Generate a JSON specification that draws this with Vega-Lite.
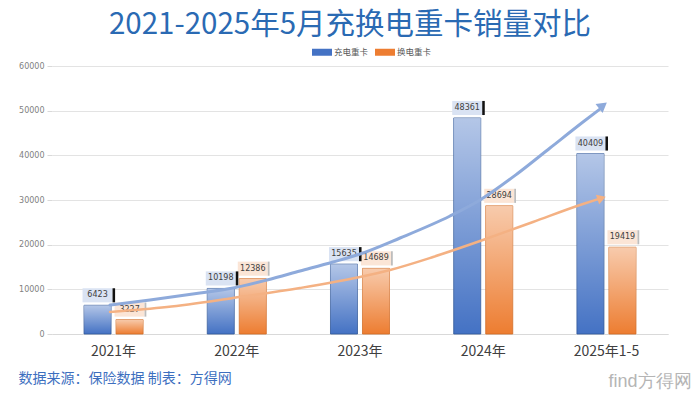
{
  "$schema": "https://vega.github.io/schema/vega-lite/v6.json",
  "width": 616,
  "height": 268,
  "autosize": {"type": "none"},
  "padding": {"left": 52, "top": 66, "right": 32, "bottom": 60},
  "background": "white",
  "config": {"view": {"stroke": null}},
  "title": {
    "text": "2021-2025年5月充换电重卡销量对比",
    "anchor": "middle",
    "dx": -10,
    "offset": 2,
    "fontSize": 29.5,
    "font": "Noto Sans CJK SC",
    "fontWeight": "normal",
    "color": "#2a6ab3"
  },
  "datasets": {
    "bars": [
      {"year": "2021年", "series": "充电重卡", "value": 6423},
      {"year": "2021年", "series": "换电重卡", "value": 3227},
      {"year": "2022年", "series": "充电重卡", "value": 10198},
      {"year": "2022年", "series": "换电重卡", "value": 12386},
      {"year": "2023年", "series": "充电重卡", "value": 15635},
      {"year": "2023年", "series": "换电重卡", "value": 14689},
      {"year": "2024年", "series": "充电重卡", "value": 48361},
      {"year": "2024年", "series": "换电重卡", "value": 28694},
      {"year": "2025年1-5", "series": "充电重卡", "value": 40409},
      {"year": "2025年1-5", "series": "换电重卡", "value": 19419}
    ],
    "arrows": [
      {"series": "blue", "t": -0.029, "v": 6493},
      {"series": "blue", "t": 0.295, "v": 7612},
      {"series": "blue", "t": 0.701, "v": 9179},
      {"series": "blue", "t": 0.969, "v": 10298},
      {"series": "blue", "t": 1.245, "v": 12090},
      {"series": "blue", "t": 1.513, "v": 14104},
      {"series": "blue", "t": 1.781, "v": 16119},
      {"series": "blue", "t": 2.0, "v": 17910},
      {"series": "blue", "t": 2.325, "v": 21492},
      {"series": "blue", "t": 2.731, "v": 26418},
      {"series": "blue", "t": 2.974, "v": 30000},
      {"series": "blue", "t": 3.274, "v": 35821},
      {"series": "blue", "t": 3.542, "v": 41642},
      {"series": "blue", "t": 3.81, "v": 47463},
      {"series": "blue", "t": 3.948, "v": 50373},
      {"series": "orange", "t": -0.029, "v": 4925},
      {"series": "orange", "t": 0.433, "v": 6045},
      {"series": "orange", "t": 0.969, "v": 8060},
      {"series": "orange", "t": 1.513, "v": 10298},
      {"series": "orange", "t": 2.0, "v": 12761},
      {"series": "orange", "t": 2.244, "v": 14328},
      {"series": "orange", "t": 2.593, "v": 17239},
      {"series": "orange", "t": 2.998, "v": 21045},
      {"series": "orange", "t": 3.404, "v": 25075},
      {"series": "orange", "t": 3.81, "v": 29104},
      {"series": "orange", "t": 3.924, "v": 30112}
    ],
    "tips": [
      {"series": "blue", "t": 3.972, "v": 51157},
      {"series": "orange", "t": 3.961, "v": 30425}
    ]
  },
  "resolve": {"scale": {"x": "independent"}, "axis": {"y": "independent"}},
  "layer": [
    {
      "data": {"name": "bars"},
      "encoding": {
        "x": {
          "field": "year",
          "type": "nominal",
          "sort": null,
          "scale": {"paddingInner": 0.521, "paddingOuter": 0.26},
          "axis": {
            "labelAngle": 0,
            "labelFontSize": 14,
            "labelFont": "Noto Sans CJK SC",
            "labelColor": "#404040",
            "ticks": false,
            "domainColor": "#d9d9d9",
            "labelPadding": 10,
            "title": "数据来源：保险数据 制表：方得网",
            "titleX": -34,
            "titleY": 44,
            "titleAlign": "left",
            "titleAnchor": "start",
            "titleBaseline": "middle",
            "titleFontSize": 14,
            "titleFont": "Noto Sans CJK SC",
            "titleFontWeight": "normal",
            "titleColor": "#3d6fbf"
          }
        },
        "xOffset": {
          "field": "series",
          "type": "nominal",
          "scale": {"domain": ["充电重卡", "换电重卡"], "paddingInner": 0.156, "paddingOuter": 0}
        },
        "y": {
          "field": "value",
          "type": "quantitative",
          "scale": {"domain": [0, 60000], "nice": false},
          "axis": {
            "values": [0, 10000, 20000, 30000, 40000, 50000, 60000],
            "format": "d",
            "labelFontSize": 8,
            "labelFont": "DejaVu Sans",
            "labelColor": "#7f7f7f",
            "domain": false,
            "tickColor": "#d9d9d9",
            "tickSize": 5,
            "labelPadding": 3,
            "grid": true,
            "gridColor": "#e3e3e3",
            "title": "find方得网",
            "titleAngle": 0,
            "titleX": 556,
            "titleY": 315,
            "titleAlign": "left",
            "titleBaseline": "middle",
            "titleAnchor": null,
            "titleFontSize": 18,
            "titleFont": "Liberation Sans",
            "titleFontWeight": "normal",
            "titleColor": "#b5b5b5"
          }
        }
      },
      "layer": [
        {
          "mark": {"type": "bar", "strokeWidth": 0.8},
          "encoding": {
            "color": {
              "field": "series",
              "type": "nominal",
              "scale": {"domain": ["充电重卡", "换电重卡"], "range": ["#4472c4", "#ed7d31"]},
              "legend": {
                "orient": "none",
                "legendX": 260,
                "legendY": -24,
                "direction": "horizontal",
                "title": null,
                "symbolType": "M-1,-0.35H1V0.35H-1Z",
                "symbolSize": 400,
                "symbolStrokeWidth": 0,
                "labelFontSize": 8.5,
                "labelFont": "Noto Sans CJK SC",
                "labelColor": "#595959",
                "columnPadding": 6,
                "labelOffset": 2
              }
            },
            "stroke": {
              "field": "series",
              "type": "nominal",
              "scale": {"domain": ["充电重卡", "换电重卡"], "range": ["#2f5597", "#d06a22"]},
              "legend": null
            }
          }
        },
        {
          "mark": {
            "type": "bar",
            "strokeWidth": 0,
            "fill": {
              "gradient": "linear",
              "x1": 0, "y1": 0, "x2": 0, "y2": 1,
              "stops": [
                {"offset": 0, "color": "rgba(255,255,255,0.6)"},
                {"offset": 1, "color": "rgba(255,255,255,0)"}
              ]
            }
          }
        },
        {
          "transform": [{"filter": "datum.series === '充电重卡'"}],
          "mark": {"type": "point", "shape": "M-1,-0.47H1V0.47H-1Z", "size": 900, "filled": true, "fill": "#dae3f3", "opacity": 1, "strokeWidth": 0, "yOffset": -10}
        },
        {
          "transform": [{"filter": "datum.series === '换电重卡'"}],
          "mark": {"type": "point", "shape": "M-1,-0.47H1V0.47H-1Z", "size": 900, "filled": true, "fill": "#fbe5d6", "opacity": 1, "strokeWidth": 0, "yOffset": -10}
        },
        {
          "transform": [{"filter": "datum.series === '充电重卡'"}],
          "mark": {"type": "point", "shape": "M1,-0.47H1.17V0.47H1Z", "size": 900, "filled": true, "fill": "#111111", "opacity": 1, "strokeWidth": 0, "yOffset": -10}
        },
        {
          "transform": [{"filter": "datum.series === '换电重卡'"}],
          "mark": {"type": "point", "shape": "M1,-0.47H1.12V0.47H1Z", "size": 900, "filled": true, "fill": "#bdbdbd", "opacity": 1, "strokeWidth": 0, "yOffset": -10}
        },
        {
          "mark": {"type": "text", "fontSize": 8, "font": "DejaVu Sans", "color": "#404040", "baseline": "middle", "yOffset": -10},
          "encoding": {"text": {"field": "value", "type": "quantitative", "format": "d"}}
        }
      ]
    },
    {
      "encoding": {
        "x": {"field": "t", "type": "quantitative", "scale": {"domain": [-0.5, 4.5], "nice": false, "zero": false}, "axis": null},
        "y": {"field": "v", "type": "quantitative", "axis": null}
      },
      "layer": [
        {
          "data": {"name": "arrows"},
          "transform": [{"filter": "datum.series === 'blue'"}],
          "mark": {"type": "line", "interpolate": "monotone", "color": "#8eaadb", "strokeWidth": 3, "strokeCap": "round"},
          "encoding": {}
        },
        {
          "data": {"name": "arrows"},
          "transform": [{"filter": "datum.series === 'orange'"}],
          "mark": {"type": "line", "interpolate": "monotone", "color": "#f4b183", "strokeWidth": 2.5, "strokeCap": "round"},
          "encoding": {}
        },
        {
          "data": {"name": "tips"},
          "transform": [{"filter": "datum.series === 'blue'"}],
          "mark": {"type": "point", "shape": "triangle-up", "size": 130, "filled": true, "color": "#8eaadb", "opacity": 1, "angle": 52}
        },
        {
          "data": {"name": "tips"},
          "transform": [{"filter": "datum.series === 'orange'"}],
          "mark": {"type": "point", "shape": "triangle-up", "size": 100, "filled": true, "color": "#f4b183", "opacity": 1, "angle": 71}
        }
      ]
    }
  ]
}
